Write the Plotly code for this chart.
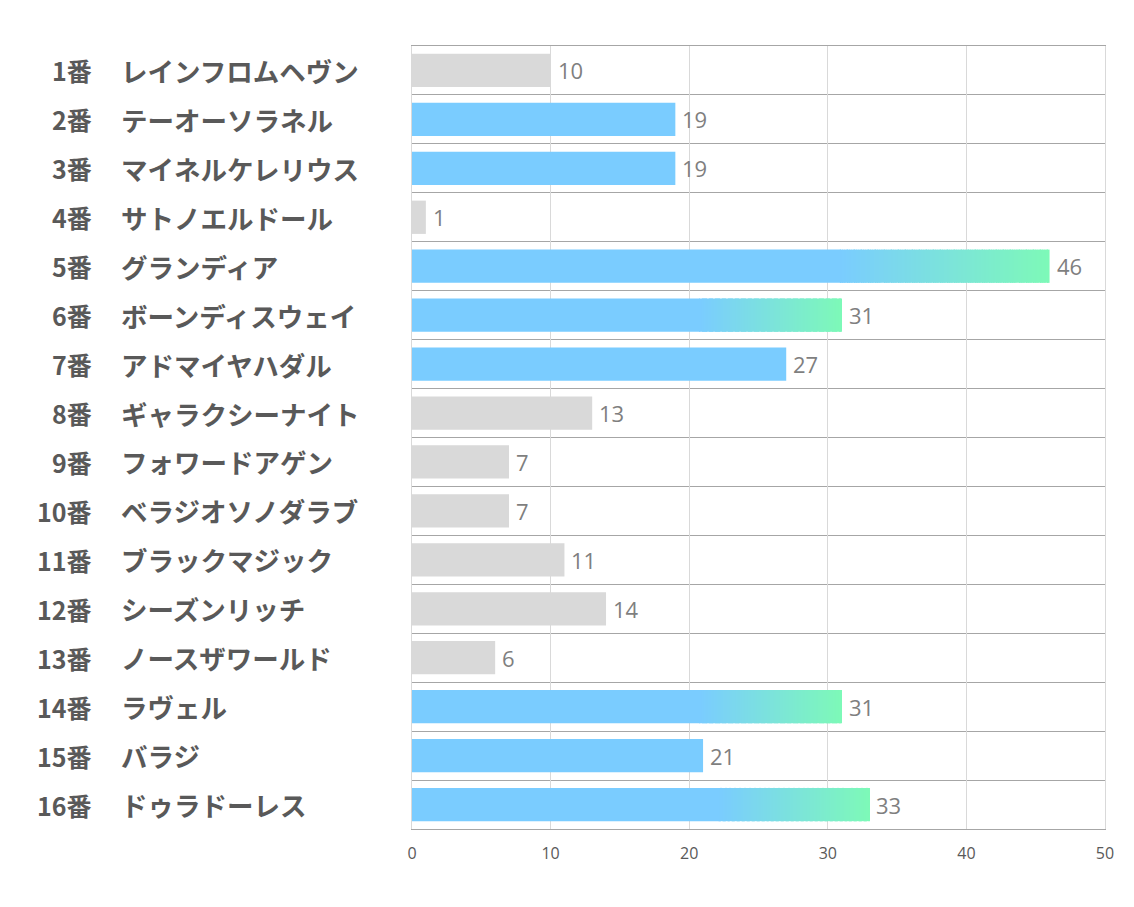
import plotly.graph_objects as go

numbers = ["1番", "2番", "3番", "4番", "5番", "6番", "7番", "8番",
           "9番", "10番", "11番", "12番", "13番", "14番", "15番", "16番"]
names = ["レインフロムヘヴン", "テーオーソラネル", "マイネルケレリウス", "サトノエルドール",
         "グランディア", "ボーンディスウェイ", "アドマイヤハダル", "ギャラクシーナイト",
         "フォワードアゲン", "ベラジオソノダラブ", "ブラックマジック", "シーズンリッチ",
         "ノースザワールド", "ラヴェル", "バラジ", "ドゥラドーレス"]
values = [10, 19, 19, 1, 46, 31, 27, 13, 7, 7, 11, 14, 6, 31, 21, 33]
ticks = [0, 10, 20, 30, 40, 50]

GRAY = "#d9d9d9"
BLUE = (122, 204, 255)
GREEN = (125, 249, 184)
blue_hex = "#%02x%02x%02x" % BLUE

ypos = list(range(len(values)))
START_FRAC = 0.67
N = 120

def is_grad(v):
    return v >= 30

def base_color(v):
    return GRAY if v < 15 else blue_hex

fig = go.Figure()
# solid part of every bar
solid_len = [v * START_FRAC if is_grad(v) else v for v in values]
fig.add_trace(go.Bar(
    y=ypos, x=solid_len, orientation="h", width=0.68,
    marker=dict(color=[base_color(v) for v in values], line=dict(width=0)),
    opacity=1, hoverinfo="skip", showlegend=False))

# gradient part, thin adjacent segments
gy, gbase, glen, gcol = [], [], [], []
for i, v in enumerate(values):
    if not is_grad(v):
        continue
    for k in range(N):
        t = k / (N - 1)
        c = tuple(round(BLUE[j] + (GREEN[j] - BLUE[j]) * t) for j in range(3))
        s0 = v * (START_FRAC + (1 - START_FRAC) * k / N)
        s1 = v * (START_FRAC + (1 - START_FRAC) * (k + 1) / N)
        gy.append(i)
        gbase.append(s0)
        glen.append(s1 - s0)
        gcol.append("#%02x%02x%02x" % c)
fig.add_trace(go.Bar(
    y=gy, x=glen, base=gbase, orientation="h", width=0.68,
    marker=dict(color=gcol, line=dict(width=0)),
    opacity=1, hoverinfo="skip", showlegend=False))

# value labels
for i, v in enumerate(values):
    fig.add_annotation(x=v, y=i, xref="x", yref="y", text=str(v), showarrow=False,
                       xanchor="left", yanchor="middle", xshift=5,
                       font=dict(family="Open Sans", size=22, color="#7f7f7f"))

# category labels
W = 693.0
for i, (n, nm) in enumerate(zip(numbers, names)):
    fig.add_annotation(x=(94 - 412) / W, y=i, xref="paper", yref="y",
                       text=n, showarrow=False, xanchor="right", yanchor="middle",
                       font=dict(family="Noto Sans CJK JP", size=25, color="#595959", weight="bold"))
    fig.add_annotation(x=(119 - 412) / W, y=i, xref="paper", yref="y",
                       text=nm, showarrow=False, xanchor="left", yanchor="middle",
                       font=dict(family="Noto Sans CJK JP", size=26.5, color="#595959", weight="bold"))

fig.update_layout(
    width=1126, height=899,
    margin=dict(l=404, r=29, t=38, b=78),
    paper_bgcolor="white", plot_bgcolor="white",
    barmode="overlay",
    xaxis=dict(range=[0, 50], tickvals=ticks, showgrid=True, gridcolor="#d9d9d9",
               gridwidth=1, zeroline=False,
               showline=True, linecolor="#a6a6a6", linewidth=1, mirror=True,
               tickfont=dict(family="Open Sans", size=16, color="#595959"),
               ticks="", ticklabelstandoff=10),
    yaxis=dict(range=[15.5, -0.5], showticklabels=False, showgrid=False,
               zeroline=False, showline=True, linecolor="#d9d9d9", linewidth=1,
               mirror=True, ticks="",
               minor=dict(tickvals=[i - 0.5 for i in range(1, len(values))],
                          showgrid=True, gridcolor="#a6a6a6", gridwidth=1, ticks="")),
)

fig.write_html("out.html")
